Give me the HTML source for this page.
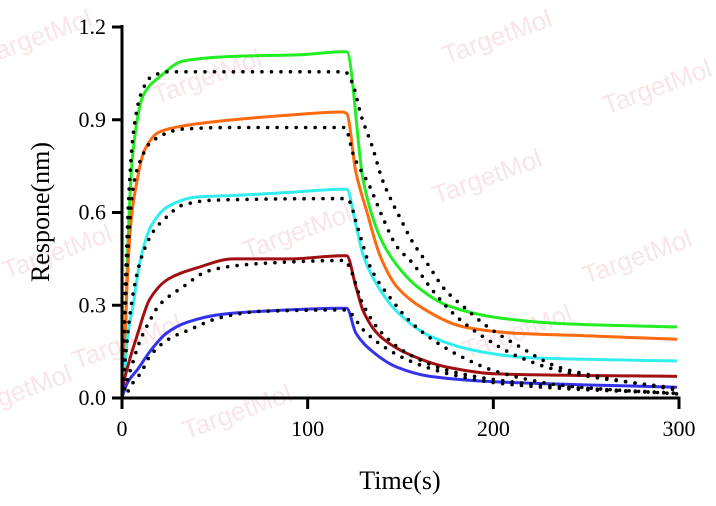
<!DOCTYPE html>
<html><head><meta charset="utf-8"><style>
html,body{margin:0;padding:0;background:#fff;}
svg{display:block;font-family:"Liberation Serif",serif;}
</style></head><body>
<svg id="chart" width="716" height="506" viewBox="0 0 716 506">
<g id="wm"></g>
<g id="plot"></g>
<g id="axes"></g>
</svg>
<script>
// ---- data ----
const xTicks = [0, 100, 200, 300];
const yTicks = [0.0, 0.3, 0.6, 0.9, 1.2];
const yTickLabels = ["0.0", "0.3", "0.6", "0.9", "1.2"];
const seriesNames = ["green", "orange", "cyan", "darkred", "blue"];
const seriesColors = ["#22ee22", "#ff6a10", "#33eeee", "#a01010", "#3333ee"];
const greenT = [0,1.6,3,6,11.5,20.5,33,60,96,119,121,130,139,148,159,175,202,238,299];
const greenV = [0,0.15,0.47,0.80,0.98,1.04,1.09,1.105,1.11,1.12,1.12,0.70,0.52,0.43,0.36,0.30,0.26,0.24,0.23];
const orangeT = [0,1,3,5,8,12,20,33,60,90,119,121,126,132,139,148,162,184,211,256,299];
const orangeV = [0,0.10,0.40,0.58,0.70,0.80,0.86,0.88,0.90,0.915,0.925,0.92,0.73,0.60,0.46,0.36,0.29,0.23,0.21,0.20,0.19];
const cyanT = [0,1,3,6,10,16,25,40,60,90,119,121,126,130,139,148,166,193,220,299];
const cyanV = [0,0.05,0.20,0.30,0.45,0.56,0.62,0.65,0.655,0.665,0.675,0.675,0.56,0.46,0.35,0.28,0.20,0.15,0.13,0.12];
const darkredT = [0,1,3,8,15,25,40,60,90,119,121,126,130,139,157,175,202,299];
const darkredV = [0,0.05,0.10,0.20,0.32,0.385,0.42,0.45,0.45,0.46,0.46,0.36,0.28,0.20,0.135,0.10,0.078,0.07];
const blueT = [0,1,3,8.6,15,24,35,53,74,119,121,126,135,148,166,202,299];
const blueV = [0,0.02,0.05,0.094,0.15,0.21,0.245,0.27,0.28,0.29,0.29,0.21,0.15,0.10,0.07,0.052,0.035];
// fitted (dotted) curves
const fitGreenT = [0,2,4,6,10,16,25,60,120,124,129,135,140,145,150,156,165,174,185,197,213,235,256,300];
const fitGreenV = [0,0.40,0.69,0.85,0.98,1.04,1.055,1.055,1.055,1.02,0.91,0.81,0.71,0.64,0.58,0.51,0.43,0.35,0.29,0.23,0.17,0.10,0.07,0.025];
const fitOrangeT = [0,1.5,3,6,10,16,33,60,120,125,133,140,148,156,167,179,194,213,238,300];
const fitOrangeV = [0,0.25,0.45,0.68,0.77,0.83,0.87,0.875,0.875,0.78,0.69,0.59,0.49,0.44,0.35,0.27,0.20,0.135,0.085,0.03];
const fitCyanT = [0,2,5,8,12,17,23,33,50,120,122,127,134,145,154,167,185,202,238,300];
const fitCyanV = [0,0.14,0.30,0.40,0.48,0.54,0.58,0.625,0.64,0.645,0.64,0.55,0.42,0.32,0.255,0.19,0.127,0.085,0.04,0.013];
const fitDarkredT = [0,2,5,10,15,20,33,46,64,90,120,122,130,140,155,175,200,240,300];
const fitDarkredV = [0,0.04,0.10,0.19,0.25,0.30,0.36,0.41,0.43,0.44,0.445,0.43,0.30,0.21,0.14,0.09,0.06,0.035,0.015];
const fitBlueT = [0,3,6,10,15,25,36,53,74,120,122,130,140,155,175,200,240,300];
const fitBlueV = [0,0.02,0.05,0.08,0.135,0.19,0.22,0.26,0.28,0.285,0.28,0.22,0.17,0.12,0.08,0.05,0.03,0.015];

const measured = [[greenT,greenV],[orangeT,orangeV],[cyanT,cyanV],[darkredT,darkredV],[blueT,blueV]];
const fits = [[fitGreenT,fitGreenV],[fitOrangeT,fitOrangeV],[fitCyanT,fitCyanV],[fitDarkredT,fitDarkredV],[fitBlueT,fitBlueV]];

// ---- scales ----
const X0=122, X1=679, Y0=398, Y1=27;
const xs = t => X0 + (t/300)*(X1-X0);
const ys = v => Y0 - (v/1.2)*(Y0-Y1);
const NS="http://www.w3.org/2000/svg";
function mk(tag, attrs, parent){const e=document.createElementNS(NS,tag);for(const k in attrs)e.setAttribute(k,attrs[k]);parent.appendChild(e);return e;}

// monotone cubic path (Fritsch-Carlson)
function path(T,V){
  const x=T.map(xs), y=V.map(ys), n=x.length;
  const d=[], m=new Array(n);
  for(let i=0;i<n-1;i++) d.push((y[i+1]-y[i])/(x[i+1]-x[i]));
  m[0]=d[0]; m[n-1]=d[n-2];
  for(let i=1;i<n-1;i++){
    if(d[i-1]*d[i]<=0) m[i]=0;
    else { const w1=2*(x[i+1]-x[i])+(x[i]-x[i-1]), w2=(x[i+1]-x[i])+2*(x[i]-x[i-1]);
      m[i]=(w1+w2)/(w1/d[i-1]+w2/d[i]); }
  }
  let s='M'+x[0].toFixed(1)+' '+y[0].toFixed(1);
  for(let i=0;i<n-1;i++){
    const h=(x[i+1]-x[i])/3;
    s+=' C'+(x[i]+h).toFixed(1)+' '+(y[i]+m[i]*h).toFixed(1)+' '+(x[i+1]-h).toFixed(1)+' '+(y[i+1]-m[i+1]*h).toFixed(1)+' '+x[i+1].toFixed(1)+' '+y[i+1].toFixed(1);
  }
  return s;
}

// watermarks
const wm=document.getElementById('wm');
const wmPos=[[40,45],[210,85],[500,45],[660,95],[490,185],[300,240],[640,265],[60,260],[130,350],[520,340],[240,420],[20,400]];
wmPos.forEach((p,i)=>{
  const t=mk('text',{x:p[0],y:p[1],transform:`rotate(-20 ${p[0]} ${p[1]})`,'font-family':'Liberation Sans, sans-serif','font-size':'26','fill':'rgba(235,160,160,0.28)','text-anchor':'middle'},wm);
  
  
  t.textContent='TargetMol';
});

const plot=document.getElementById('plot');
measured.forEach((s,i)=>{
  const p=mk('path',{d:path(s[0],s[1]),fill:'none',stroke:seriesColors[i],'stroke-width':'3','stroke-linejoin':'round'},plot);
  
  
});
fits.forEach((s,i)=>{
  const p=mk('path',{d:path(s[0],s[1]),fill:'none',stroke:'#000','stroke-width':'3.6','stroke-linecap':'round','stroke-dasharray':'0 9.5'},plot);
  
  
});

// axes
const ax=document.getElementById('axes');
const ya=mk('line',{x1:X0,y1:Y1-2,x2:X0,y2:Y0+1.5,stroke:'#000','stroke-width':'3'},ax);


const xa=mk('line',{x1:X0-1.5,y1:Y0,x2:X1+1.5,y2:Y0,stroke:'#000','stroke-width':'3'},ax);


yTicks.forEach((v,i)=>{
  const l=mk('line',{x1:X0-10,y1:ys(v),x2:X0,y2:ys(v),stroke:'#000','stroke-width':'3'},ax);
  
  
  const t=mk('text',{x:X0-16,y:ys(v)+7,'font-size':'22','text-anchor':'end',fill:'#000'},ax);
  
  
  t.textContent=yTickLabels[i];
});
xTicks.forEach(v=>{
  const l=mk('line',{x1:xs(v),y1:Y0,x2:xs(v),y2:Y0+11,stroke:'#000','stroke-width':'3'},ax);
  
  
  const t=mk('text',{x:xs(v),y:Y0+38,'font-size':'22','text-anchor':'middle',fill:'#000'},ax);
  
  
  t.textContent=String(v);
});
const xt=mk('text',{x:400,y:489,'font-size':'26','text-anchor':'middle',fill:'#000'},ax);


xt.textContent='Time(s)';
const yt=mk('text',{x:49,y:212,'font-size':'26','text-anchor':'middle',fill:'#000',transform:'rotate(-90 49 212)'},ax);


yt.textContent='Respone(nm)';
</script>
</body></html>
